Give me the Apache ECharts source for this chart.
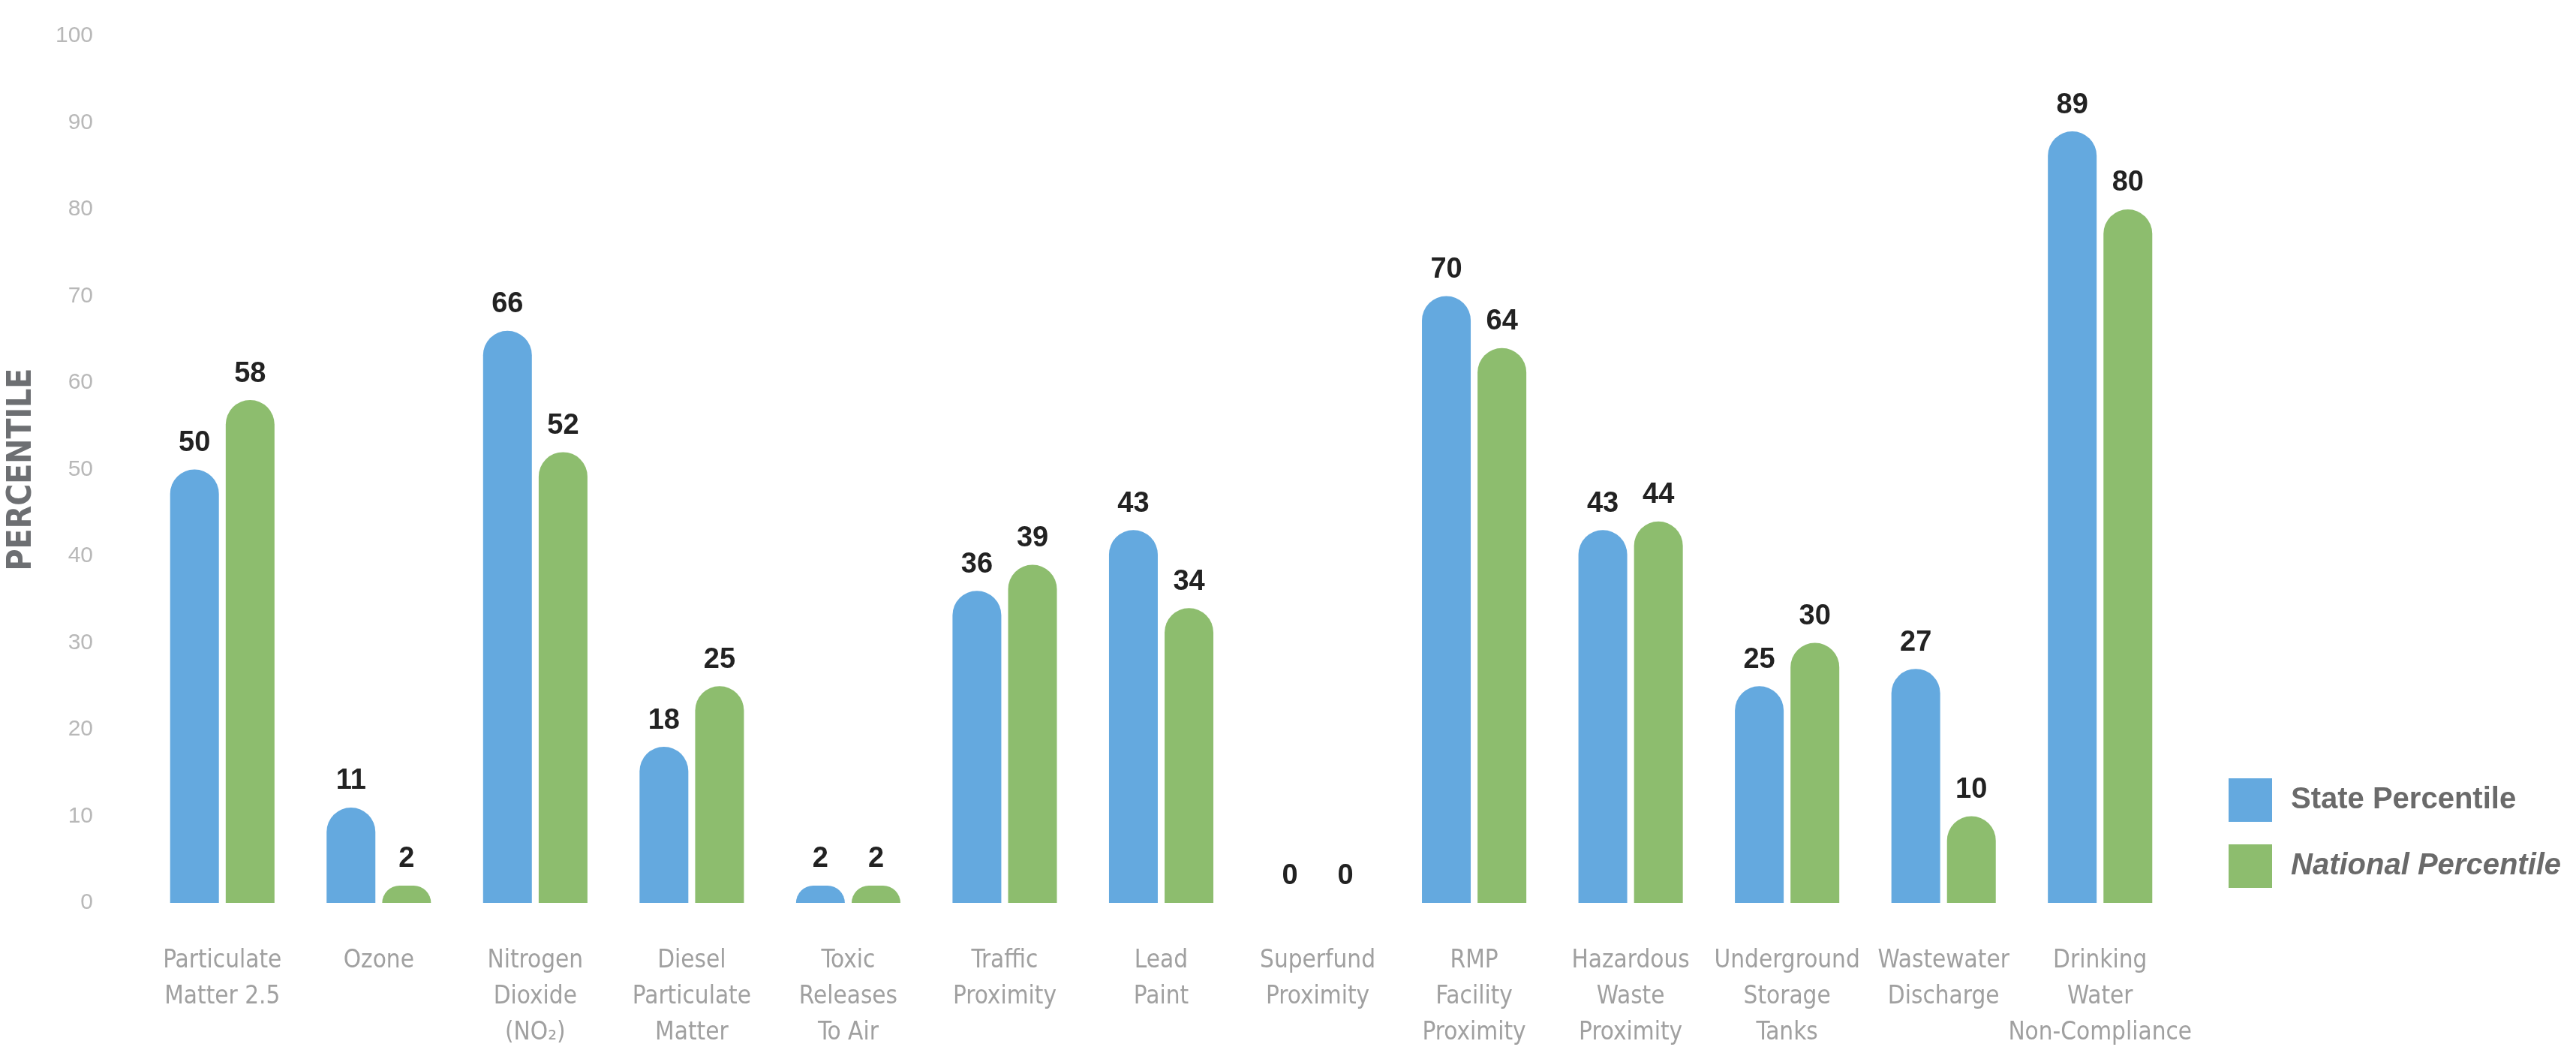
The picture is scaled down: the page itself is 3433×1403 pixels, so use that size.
<!DOCTYPE html>
<html>
<head>
<meta charset="utf-8">
<script src="https://cdn.jsdelivr.net/npm/echarts@6/dist/echarts.min.js"></script>
<style>
  html, body { margin: 0; padding: 0; background: #fff; }
  #main { width: 3433px; height: 1403px; }
</style>
</head>
<body>
<div id="main"></div>
<script>
const categories = [
  'Particulate\nMatter 2.5', 'Ozone', 'Nitrogen\nDioxide\n(NO₂)', 'Diesel\nParticulate\nMatter',
  'Toxic\nReleases\nTo Air', 'Traffic\nProximity', 'Lead\nPaint', 'Superfund\nProximity',
  'RMP\nFacility\nProximity', 'Hazardous\nWaste\nProximity', 'Underground\nStorage\nTanks',
  'Wastewater\nDischarge', 'Drinking\nWater\nNon-Compliance'
];
const stateValues = [50, 11, 66, 18, 2, 36, 43, 0, 70, 43, 25, 27, 89];
const nationalValues = [58, 2, 52, 25, 2, 39, 34, 0, 64, 44, 30, 10, 80];
const seriesNames = ['State Percentile', 'National Percentile'];

const colors = ['#64a9df', '#8dbd6e'];
const narrow = '"DejaVu Sans Condensed", "Liberation Sans", sans-serif';
const sans = '"Liberation Sans", Arial, sans-serif';

const myChart = echarts.init(document.getElementById('main'));

const barLabel = {
  show: true,
  position: 'top',
  distance: 16,
  color: '#222',
  fontFamily: sans,
  fontWeight: 'bold',
  fontSize: 38
};

const option = {
  backgroundColor: '#ffffff',
  animation: false,
  legend: {
    data: seriesNames,
    orient: 'vertical',
    left: 2965,
    top: 1032,
    icon: 'rect',
    itemWidth: 58,
    itemHeight: 58,
    itemGap: 30,
    formatter: name => name === 'National Percentile' ? '{i|' + name + '}' : '{n|' + name + '}',
    textStyle: {
      padding: [0, 0, 0, 20],
      rich: {
        n: { color: '#6a6a6a', fontSize: 40, fontWeight: 'bold', fontFamily: sans },
        i: { color: '#6a6a6a', fontSize: 40, fontWeight: 'bold', fontStyle: 'italic', fontFamily: sans }
      }
    }
  },
  grid: {
    left: 182,
    right: 530,
    top: 48,
    bottom: 200,
    containLabel: false
  },
  xAxis: {
    type: 'category',
    data: categories,
    axisLine: { show: false },
    axisTick: { show: false },
    axisLabel: {
      interval: 0,
      margin: 53,
      color: '#a0a0a0',
      fontFamily: narrow,
      fontSize: 33,
      lineHeight: 48
    }
  },
  yAxis: {
    type: 'value',
    min: 0,
    max: 100,
    interval: 10,
    name: 'PERCENTILE',
    nameLocation: 'middle',
    nameRotate: 90,
    nameGap: 140,
    nameTextStyle: {
      color: '#6d6f72',
      fontFamily: narrow,
      fontWeight: 'bold',
      fontSize: 44
    },
    axisLine: { show: false },
    axisTick: { show: false },
    splitLine: { show: false },
    axisLabel: {
      margin: 68,
      color: '#b8b8b8',
      fontFamily: sans,
      fontSize: 30
    }
  },
  series: [
    {
      name: seriesNames[0],
      type: 'bar',
      data: stateValues,
      barWidth: 65,
      barGap: '14%',
      itemStyle: { color: colors[0], borderRadius: [33, 33, 0, 0] },
      label: barLabel
    },
    {
      name: seriesNames[1],
      type: 'bar',
      data: nationalValues,
      barWidth: 65,
      barGap: '14%',
      itemStyle: { color: colors[1], borderRadius: [33, 33, 0, 0] },
      label: barLabel
    }
  ]
};

myChart.setOption(option);
</script>
</body>
</html>
